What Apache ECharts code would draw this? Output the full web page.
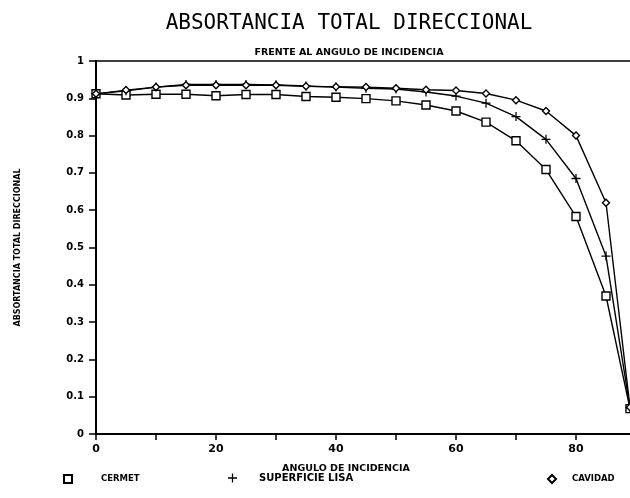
<!DOCTYPE html>
<html><head><meta charset="utf-8">
<script src="https://cdn.jsdelivr.net/npm/echarts@6/dist/echarts.min.js"></script>
<style>html,body{margin:0;padding:0;background:#fff}#c{width:630px;height:498px}</style>
</head><body><div id="c"></div>
<script>
const angles  = [0, 5, 10, 15, 20, 25, 30, 35, 40, 45, 50, 55, 60, 65, 70, 75, 80, 85, 89];
const cermet  = [0.912, 0.909, 0.911, 0.911, 0.907, 0.910, 0.910, 0.905, 0.903, 0.899, 0.893, 0.882, 0.866, 0.836, 0.786, 0.709, 0.583, 0.370, 0.068];
const lisa    = [0.912, 0.920, 0.930, 0.937, 0.937, 0.937, 0.936, 0.933, 0.930, 0.927, 0.925, 0.917, 0.906, 0.887, 0.851, 0.790, 0.685, 0.477, 0.070];
const cavidad = [0.912, 0.922, 0.930, 0.935, 0.935, 0.935, 0.935, 0.932, 0.931, 0.930, 0.927, 0.923, 0.921, 0.913, 0.895, 0.866, 0.800, 0.620, 0.072];
const names = ['CERMET', 'SUPERFICIE LISA', 'CAVIDAD'];

const plusPath = 'path://M4.3,0 L5.7,0 L5.7,4.3 L10,4.3 L10,5.7 L5.7,5.7 L5.7,10 L4.3,10 L4.3,5.7 L0,5.7 L0,4.3 L4.3,4.3 Z';
const pair = arr => angles.map((a, i) => [a, arr[i]]);
const font = 'DejaVu Sans';
const mono = 'DejaVu Sans Mono';

const chart = echarts.init(document.getElementById('c'), null, {renderer: 'canvas'});
const lineBase = {type: 'line', lineStyle: {color: '#000', width: 1.4}, itemStyle: {color: '#fff', borderColor: '#000', borderWidth: 1.4}, emphasis: {disabled: true}, animation: false};
const legText = (pad, size) => ({fontFamily: font, fontSize: size, fontWeight: 'bold', color: '#000', padding: [0, 0, 0, pad]});
chart.setOption({
  backgroundColor: '#fff',
  title: [
    {text: 'ABSORTANCIA TOTAL DIRECCIONAL', left: 344, top: 8, textAlign: 'center',
     textStyle: {fontFamily: mono, fontSize: 21, fontWeight: 'normal', color: '#000'}},
    {text: 'FRENTE AL ANGULO DE INCIDENCIA', left: 344, top: 43, textAlign: 'center',
     textStyle: {fontFamily: font, fontSize: 9.5, fontWeight: 'bold', color: '#000'}}
  ],
  legend: [
    {data: [{name: names[0], icon: 'rect'}], left: 63, top: 474, padding: 0, itemWidth: 8, itemHeight: 8, textStyle: legText(24, 8.5)},
    {data: [{name: names[1], icon: plusPath}], left: 228, top: 473, padding: 0, itemWidth: 9, itemHeight: 9, textStyle: legText(17, 10)},
    {data: [{name: names[2], icon: 'diamond'}], left: 547, top: 474, padding: 0, itemWidth: 8, itemHeight: 8, textStyle: legText(11, 8.5)}
  ],
  grid: {left: 96, top: 61, width: 540, height: 373, show: true, borderColor: '#000', borderWidth: 1.3,
         containLabel: false, outerBoundsMode: 'none'},
  xAxis: {
    type: 'value', min: 0, max: 90, interval: 10,
    name: 'ANGULO DE INCIDENCIA', nameLocation: 'middle', nameGap: 30,
    nameTextStyle: {fontFamily: font, fontSize: 9.5, fontWeight: 'bold', color: '#000', padding: [0, 40, 0, 0]},
    axisLine: {onZero: false, lineStyle: {color: '#000', width: 2}},
    axisTick: {inside: false, length: 6, lineStyle: {color: '#000', width: 1.5}},
    axisLabel: {fontFamily: font, fontSize: 11, fontWeight: 'bold', color: '#000', margin: 10,
      formatter: v => (v % 20 === 0 ? String(v) : '')},
    splitLine: {show: false}
  },
  yAxis: {
    type: 'value', min: 0, max: 1, interval: 0.1,
    name: 'ABSORTANCIA TOTAL DIRECCIONAL', nameLocation: 'middle', nameGap: 74, nameRotate: 90,
    nameTextStyle: {fontFamily: font, fontSize: 8, fontWeight: 'bold', color: '#000'},
    axisLine: {onZero: false, lineStyle: {color: '#000', width: 2}},
    axisTick: {inside: false, length: 7, lineStyle: {color: '#000', width: 1.5}},
    axisLabel: {fontFamily: font, fontSize: 10, fontWeight: 'bold', color: '#000', margin: 12,
      formatter: v => String(Math.round(v * 10) / 10)},
    splitLine: {show: false}
  },
  series: [
    Object.assign({}, lineBase, {name: names[0], data: pair(cermet), symbol: 'rect', symbolSize: 8}),
    Object.assign({}, lineBase, {name: names[1], data: pair(lisa), symbol: plusPath, symbolSize: 9,
      itemStyle: {color: '#000', borderWidth: 0}}),
    Object.assign({}, lineBase, {name: names[2], data: pair(cavidad), symbol: 'diamond', symbolSize: 7})
  ]
});
</script></body></html>
